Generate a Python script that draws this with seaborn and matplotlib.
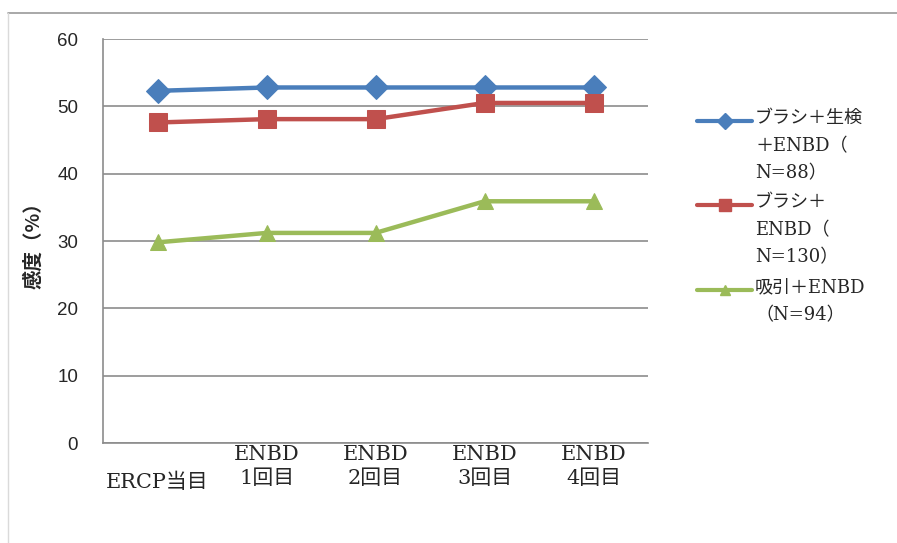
import matplotlib
matplotlib.use("Agg")
import matplotlib.pyplot as plt
import matplotlib.lines as mlines
import seaborn as sns
import pandas as pd

# Sensitivity by examination timing
categories = ["ERCP当目", "ENBD\n1回目", "ENBD\n2回目", "ENBD\n3回目", "ENBD\n4回目"]
series_names = ["ブラシ＋生検\n＋ENBD（\nN=88）", "ブラシ＋\nENBD（\nN=130）", "吸引＋ENBD\n（N=94）"]
brush_biopsy = [52.3, 52.8, 52.8, 52.8, 52.8]
brush = [47.6, 48.1, 48.1, 50.5, 50.5]
suction = [29.8, 31.2, 31.2, 35.9, 35.9]
y_ticks = [0, 10, 20, 30, 40, 50, 60]

colors = ["#4A7EBB", "#C0504D", "#9BBB59"]
markers = ["D", "s", "^"]
msizes = [12, 13, 11]

rows = []
for name, vals in zip(series_names, [brush_biopsy, brush, suction]):
    for i, v in enumerate(vals):
        rows.append({"pos": i, "value": v, "series": name})
df = pd.DataFrame(rows)

sns.set_style("white")
jp = ["Noto Sans CJK JP", "DejaVu Sans"]
serif_jp = ["DejaVu Serif", "Noto Sans CJK JP"]
plt.rcParams["font.family"] = jp

W, H = 897, 543
fig = plt.figure(figsize=(W / 100, H / 100), dpi=100)
ax = fig.add_axes([103 / W, 1 - 443 / H, (648 - 103) / W, (443 - 39) / H])

for name, c, m, ms in zip(series_names, colors, markers, msizes):
    sub = df[df["series"] == name]
    sns.lineplot(data=sub, x="pos", y="value", ax=ax, color=c, linewidth=3.2,
                 marker=m, markersize=ms, markeredgecolor=c, legend=False)

ax.set_xlim(-0.5, 4.5)
ax.set_ylim(0, 60)
ax.set_yticks(y_ticks)
ax.set_yticklabels([str(t) for t in y_ticks], fontsize=13.5, family=["Liberation Sans"])
ax.yaxis.grid(True, color="#8C8C8C", linewidth=1.2)
ax.xaxis.grid(False)
for side in ["top", "right"]:
    ax.spines[side].set_visible(False)
for side in ["left", "bottom"]:
    ax.spines[side].set_color("#8C8C8C")
    ax.spines[side].set_linewidth(1.2)

# category boundary ticks on the x axis
ax.set_xticks([i - 0.5 for i in range(len(categories) + 1)])
ax.set_xticklabels([""] * (len(categories) + 1))
ax.tick_params(axis="x", direction="out", length=5, color="#8C8C8C", width=1.2)
ax.tick_params(axis="y", direction="out", length=5, color="#8C8C8C", width=1.2, pad=13)
for i, lab in enumerate(categories):
    top = -2 / 404 if "\n" in lab else -30 / 404
    ax.text(i, top, lab, transform=ax.get_xaxis_transform(), ha="center", va="top",
            fontsize=15, family=serif_jp, linespacing=1.3)

ax.set_xlabel("")
ax.set_ylabel("感度（%）", fontsize=14, fontweight="bold", labelpad=10)

# legend keys with the label's first line level with the key
key_y = [121, 205, 290]
for name, c, m, ms, ky in zip(series_names, colors, markers, msizes, key_y):
    fig.add_artist(mlines.Line2D([697 / W, 724.5 / W, 752 / W], [1 - ky / H] * 3, color=c,
                                 linewidth=3, marker=m, markersize=ms * 0.7, markevery=[1],
                                 markeredgecolor=c))
    fig.text(755 / W, 1 - (ky - 12) / H, name, ha="left", va="top", fontsize=13,
             family=serif_jp, linespacing=1.7)

# outer chart frame
fig.add_artist(mlines.Line2D([8 / W, 1], [1 - 13 / H] * 2, color="#9A9A9A", linewidth=1.2))
fig.add_artist(mlines.Line2D([8 / W] * 2, [0, 1 - 13 / H], color="#DADADA", linewidth=1.0))

fig.savefig("out.png", dpi=100, facecolor="white")
